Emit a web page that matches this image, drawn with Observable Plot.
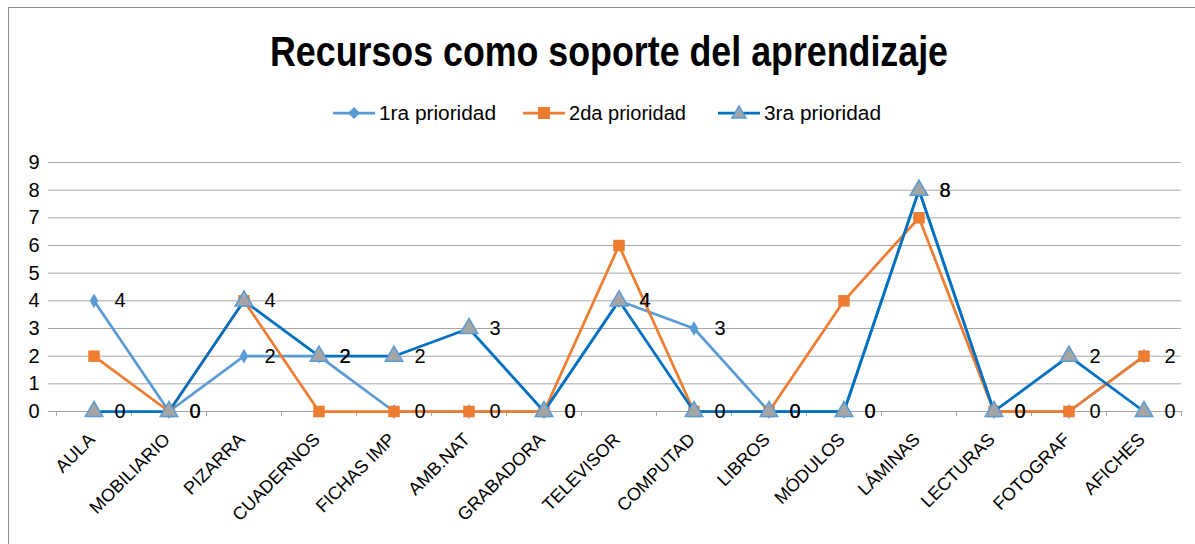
<!DOCTYPE html>
<html>
<head>
<meta charset="utf-8">
<script src="https://cdn.jsdelivr.net/npm/d3@7"></script>
<script src="https://cdn.jsdelivr.net/npm/@observablehq/plot@0.6"></script>
<style>
  html, body { margin: 0; padding: 0; background: #fff; overflow: hidden; }
  body { width: 1195px; height: 544px; position: relative; font-family: "Liberation Sans Narrow", "Arial Narrow", "Liberation Sans", Arial, sans-serif; }
  #frame { position: absolute; left: 8px; top: 7px; width: 1300px; height: 700px; border: 1px solid #8c8c8c; box-sizing: border-box; }
  #chart { position: absolute; left: 0; top: 0; }
  #title { position: absolute; left: 0; top: 0; }
  #legend { position: absolute; left: 0; top: 95px; }
</style>
</head>
<body>
<div id="frame"></div>
<div id="chart"></div>
<svg id="title" width="1195" height="90"></svg>
<svg id="legend" width="1195" height="36"></svg>
<script>
const categories = ["AULA","MOBILIARIO","PIZARRA","CUADERNOS","FICHAS IMP","AMB.NAT","GRABADORA","TELEVISOR","COMPUTAD","LIBROS","MÓDULOS","LÁMINAS","LECTURAS","FOTOGRAF","AFICHES"];
const prioridad1 = [4,0,2,2,0,0,0,4,3,0,0,8,0,0,2];
const prioridad2 = [2,0,4,0,0,0,0,6,0,0,4,7,0,0,2];
const prioridad3 = [0,0,4,2,2,3,0,4,0,0,0,8,0,2,0];
const seriesNames = ["1ra prioridad","2da prioridad","3ra prioridad"];
const yTicks = [0,1,2,3,4,5,6,7,8,9];
const titleText = "Recursos como soporte del aprendizaje";

const c1 = "#5B9BD5", c2 = "#ED7D31", c3 = "#0070C0", cTri = "#A5A5A5";
const FONT = '"Liberation Sans Narrow", "Arial Narrow", "Liberation Sans", Arial, sans-serif';

const rows = (vals) => vals.map((v, i) => ({i, cat: categories[i], v}));
const d1 = rows(prioridad1), d2 = rows(prioridad2), d3s = rows(prioridad3);
const idx = d3.range(categories.length);
const bounds = d3.range(categories.length + 1).map(i => i - 0.5);

const plot = Plot.plot({
  width: 1195,
  height: 544,
  marginTop: 162,
  marginBottom: 133,
  marginLeft: 56,
  marginRight: 14,
  style: {fontFamily: FONT, background: "transparent"},
  x: {type: "linear", domain: [-0.5, categories.length - 0.5]},
  y: {domain: [0, 9]},
  marks: [
    Plot.gridY(yTicks, {stroke: "#a6a6a6", strokeOpacity: 1, strokeWidth: 1}),
    Plot.axisY(yTicks, {tickSize: 8, stroke: "#a6a6a6", tickPadding: 9, fontSize: 20, fill: "#000", label: null}),
    Plot.ruleY([0], {stroke: "#a6a6a6", strokeWidth: 1}),
    Plot.axisX(bounds, {tickSize: 5, stroke: "#a6a6a6", tickFormat: () => "", label: null}),
    Plot.axisX(idx, {tickSize: 0, tickRotate: -45, tickPadding: 8, textAnchor: "end", fontSize: 18, fill: "#000", dx: -2, dy: 17, tickFormat: i => categories[i], label: null}),
    Plot.line(d1, {x: "i", y: "v", stroke: c1, strokeWidth: 2.75}),
    Plot.dot(d1, {x: "i", y: "v", symbol: "diamond", fill: c1, r: 4.5}),
    Plot.line(d2, {x: "i", y: "v", stroke: c2, strokeWidth: 2.75}),
    Plot.dot(d2, {x: "i", y: "v", symbol: "square", fill: c2, r: 6.5}),
    Plot.line(d3s, {x: "i", y: "v", stroke: c3, strokeWidth: 2.75}),
    Plot.dot(d3s, {x: "i", y: "v", symbol: "triangle", fill: cTri, stroke: c1, strokeWidth: 1.5, r: 6.5}),
    Plot.text(d1, {x: "i", y: "v", text: d => String(d.v), dx: 26, fontSize: 20, fill: "#000"}),
    Plot.text(d3s, {x: "i", y: "v", text: d => String(d.v), dx: 26, fontSize: 20, fill: "#000"})
  ]
});
document.getElementById("chart").appendChild(plot);

// Title
d3.select("#title").append("text")
  .attr("x", 609).attr("y", 66)
  .attr("text-anchor", "middle")
  .attr("font-family", FONT).attr("font-weight", "bold").attr("font-size", 43)
  .attr("textLength", 678).attr("lengthAdjust", "spacingAndGlyphs")
  .text(titleText);

// Legend
const lg = d3.select("#legend");
const legendItems = [
  {name: seriesNames[0], x: 333, color: c1, sym: "diamond"},
  {name: seriesNames[1], x: 523, color: c2, sym: "square"},
  {name: seriesNames[2], x: 718, color: c3, sym: "triangle"}
];
const ly = 18;
for (const it of legendItems) {
  lg.append("line").attr("x1", it.x).attr("x2", it.x + 42).attr("y1", ly).attr("y2", ly)
    .attr("stroke", it.color).attr("stroke-width", 2.75);
  const cx = it.x + 21;
  if (it.sym === "diamond") {
    lg.append("path").attr("d", `M${cx},${ly-6}L${cx+6},${ly}L${cx},${ly+6}L${cx-6},${ly}Z`).attr("fill", c1);
  } else if (it.sym === "square") {
    lg.append("rect").attr("x", cx - 6).attr("y", ly - 6).attr("width", 12).attr("height", 12).attr("fill", c2);
  } else {
    lg.append("path").attr("d", `M${cx},${ly-7}L${cx+7},${ly+5}L${cx-7},${ly+5}Z`).attr("fill", cTri).attr("stroke", c1).attr("stroke-width", 1.5);
  }
  lg.append("text").attr("x", it.x + 46).attr("y", ly + 7)
    .attr("font-family", FONT).attr("font-size", 20).attr("fill", "#000")
    .attr("textLength", 117).attr("lengthAdjust", "spacingAndGlyphs")
    .text(it.name);
}
</script>
</body>
</html>
